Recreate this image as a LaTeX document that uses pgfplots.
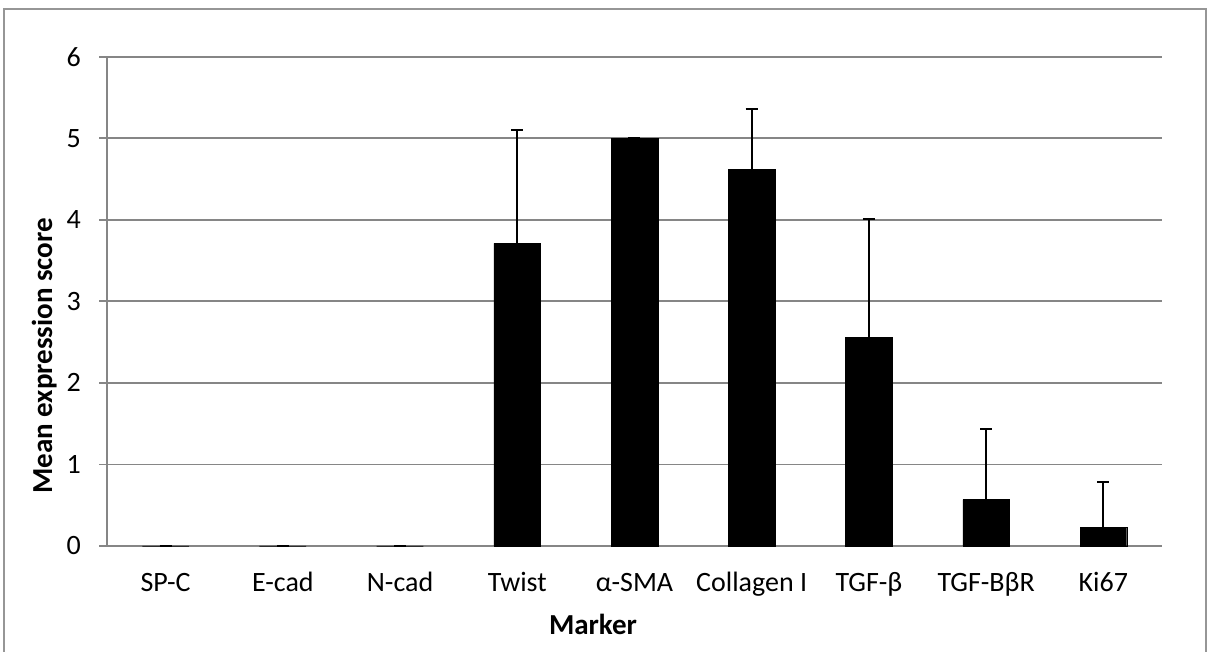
\documentclass[border=0pt]{standalone}
\usepackage{fontspec}
\setmainfont{Carlito}
\usepackage{pgfplots}
\pgfplotsset{compat=1.18}
\definecolor{gridgray}{RGB}{134,134,134}
\definecolor{bordergray}{RGB}{150,150,150}
\begin{document}
\begin{tikzpicture}[x=1pt,y=1pt]
\useasboundingbox (0,0) rectangle (1207,652);
% outer chart border (bottom edge is outside the picture)
\draw[bordergray, line width=1.5pt] (4,0) -- (4,643) -- (1206,643) -- (1206,0);
\begin{axis}[
  at={(107pt,106pt)}, anchor=south west,
  scale only axis, width=1055pt, height=489.3pt,
  xmin=-0.5, xmax=8.5, ymin=0, ymax=6,
  axis x line*=bottom, axis y line*=left,
  axis line style={gridgray, line width=1.8pt},
  ytick={0,1,...,6},
  ymajorgrids, major grid style={gridgray, line width=1.8pt},
  ytick style={gridgray, line width=1.8pt},
  tick align=outside, major tick length=8pt,
  xtick={0,...,8}, xtick style={draw=none},
  xticklabels={SP-C,E-cad,N-cad,Twist,α-SMA,Collagen I,TGF-β,TGF-BβR,Ki67},
  /pgf/number format/assume math mode=true,
  ticklabel style={font=\fontsize{28}{33}\selectfont},
  yticklabel style={anchor=east, inner sep=0pt, xshift=-18pt},
  xticklabel style={anchor=base, inner sep=0pt, yshift=-38pt},
  ybar, bar width=46.7pt,
  clip=false,
]
\addplot[fill=black, draw=black,
  error bars/.cd, y dir=plus, y explicit,
  error mark options={black, line width=2pt, mark size=6pt, rotate=90},
  error bar style={black, line width=2pt}]
  table[x=x, y=y, y error=e] {
x y e
0 0 0
1 0 0
2 0 0
3 3.71 1.39
4 5.00 0
5 4.615 0.745
6 2.56 1.45
7 0.57 0.87
8 0.23 0.55
};
\end{axis}
\node[font=\fontsize{29}{34}\selectfont\bfseries, anchor=base] at (593,17) {Marker};
\node[font=\fontsize{29}{34}\selectfont\bfseries, rotate=90, anchor=base] at (52,296) {Mean expression score};
\end{tikzpicture}
\end{document}
